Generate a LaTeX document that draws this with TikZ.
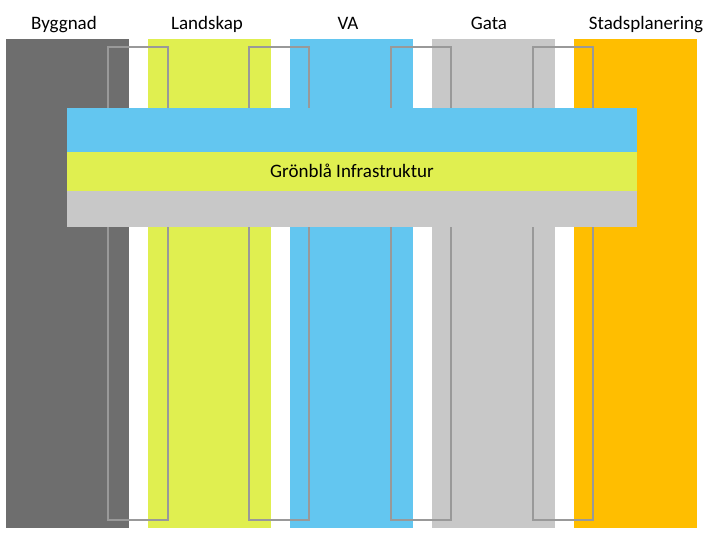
\documentclass[tikz,border=0pt]{standalone}
\usepackage{fontspec}
\setmainfont{Carlito}
\begin{document}
\begin{tikzpicture}[x=1pt,y=-1pt,
  col/.style={inner sep=0pt},
  outl/.style={draw=black!40,line width=1.3pt},
  lab/.style={font=\fontsize{19}{22}\selectfont,anchor=base}]
\definecolor{cdark}{HTML}{6E6E6E}
\definecolor{cgreen}{HTML}{E0EF50}
\definecolor{cblue}{HTML}{63C6F0}
\definecolor{clgray}{HTML}{C8C8C8}
\definecolor{corange}{HTML}{FFBE00}
\useasboundingbox (0,0) rectangle (727,545);
\fill[white] (0,0) rectangle (727,545);
\fill[cdark] (6,39) rectangle (129,528);
\fill[cgreen] (148,39) rectangle (271,528);
\fill[cblue] (290,39) rectangle (413,528);
\fill[clgray] (432,39) rectangle (555,528);
\fill[corange] (574,39) rectangle (697,528);
\foreach \x in {108,249,391,533} \draw[outl] (\x,47) rectangle (\x+60,520);
\fill[cblue] (67,108) rectangle (637,152);
\fill[cgreen] (67,152) rectangle (637,191);
\fill[clgray] (67,191) rectangle (637,227);
\node[lab] (t1) at (64,30) {Byggnad};
\node[lab] (t2) at (207,30) {Landskap};
\node[lab] (t3) at (348,30) {VA};
\node[lab] (t4) at (489,30) {Gata};
\node[lab] (t5) at (646,30) {Stadsplanering};
\node[lab] (g) at (352,178) {Grönblå Infrastruktur};
\end{tikzpicture}
\end{document}
